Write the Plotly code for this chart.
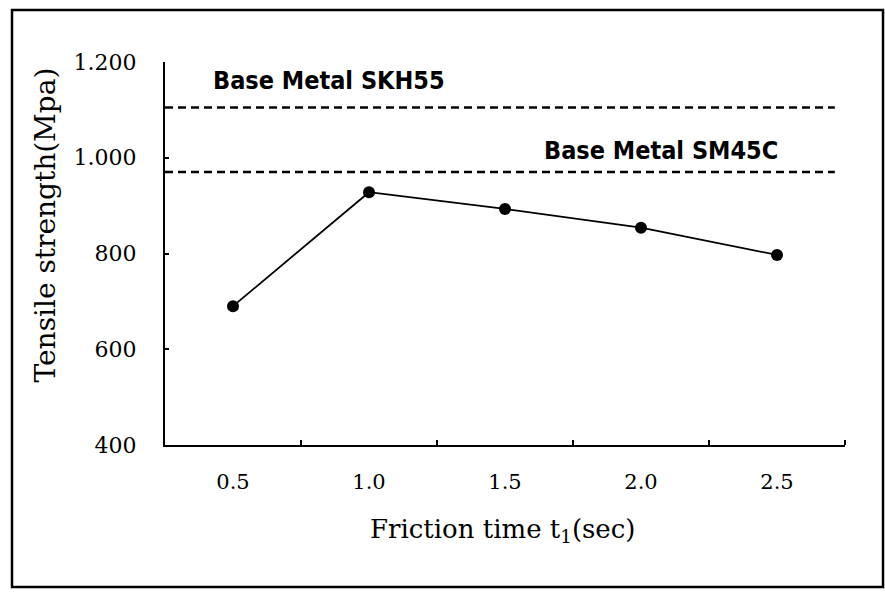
import plotly.graph_objects as go

# Data
friction_time = [0.5, 1.0, 1.5, 2.0, 2.5]
tensile_strength = [690, 928, 893, 854, 797]
base_skh55 = 1105
base_sm45c = 970
y_tickvals = [400, 600, 800, 1000, 1200]
y_ticktext = ["400", "600", "800", "1.000", "1.200"]
x_tickvals = [0.5, 1.0, 1.5, 2.0, 2.5]
x_ticktext = ["0.5", "1.0", "1.5", "2.0", "2.5"]
x_minor_ticks = [0.75, 1.25, 1.75, 2.25, 2.75]

SERIF = "DejaVu Serif"
NARROW = "DejaVu Sans Condensed"

fig = go.Figure()
fig.add_trace(go.Scatter(
    x=friction_time, y=tensile_strength, mode="lines+markers",
    line=dict(color="black", width=1.8),
    marker=dict(color="black", size=12),
    showlegend=False, hoverinfo="skip",
))

for val in (base_skh55, base_sm45c):
    fig.add_shape(type="line", xref="x domain", yref="y",
                  x0=0, x1=0.985, y0=val, y1=val,
                  line=dict(color="black", width=2.5, dash="8px,5px"))

# outer frame
fig.add_shape(type="rect", xref="paper", yref="paper",
              x0=-0.225, x1=1.0559, y0=-0.3708, y1=1.1358,
              line=dict(color="black", width=2.5), layer="above")

fig.add_annotation(text="<b>Base Metal SKH55</b>", xref="x", yref="y",
                   x=0.853, y=1162, showarrow=False,
                   xanchor="center", yanchor="middle",
                   font=dict(family=NARROW, size=25, color="black"))
fig.add_annotation(text="<b>Base Metal SM45C</b>", xref="x", yref="y",
                   x=2.074, y=1016, showarrow=False,
                   xanchor="center", yanchor="middle",
                   font=dict(family=NARROW, size=25, color="black"))

fig.add_annotation(text="Tensile strength(Mpa)", xref="paper", yref="paper",
                   x=-0.176, y=0.574, textangle=-90, showarrow=False,
                   xanchor="center", yanchor="middle",
                   font=dict(family=SERIF, size=28, color="black"))
fig.add_annotation(text="Friction time t<sub>1</sub>(sec)", xref="paper", yref="paper",
                   x=0.4956, y=-0.222, showarrow=False,
                   xanchor="center", yanchor="middle",
                   font=dict(family=SERIF, size=26, color="black"))

fig.update_layout(
    width=885, height=592,
    margin=dict(l=165, r=40, t=62, b=147),
    paper_bgcolor="white", plot_bgcolor="white",
    xaxis=dict(range=[0.25, 2.75], tickvals=x_tickvals, ticktext=x_ticktext,
               ticks="", showgrid=False, zeroline=False,
               showline=True, linecolor="black", linewidth=2,
               ticklabelstandoff=17,
               tickfont=dict(family=SERIF, size=21, color="black"),
               minor=dict(tickvals=x_minor_ticks, ticks="inside", ticklen=5,
                          tickcolor="black", tickwidth=1.5, showgrid=False)),
    yaxis=dict(range=[400, 1200], tickvals=y_tickvals, ticktext=y_ticktext,
               ticks="inside", ticklen=4, tickcolor="black", tickwidth=1.5,
               showgrid=False, zeroline=False,
               showline=True, linecolor="black", linewidth=2,
               ticklabelstandoff=22,
               tickfont=dict(family=SERIF, size=22, color="black")),
)

fig.write_html("out.html")
